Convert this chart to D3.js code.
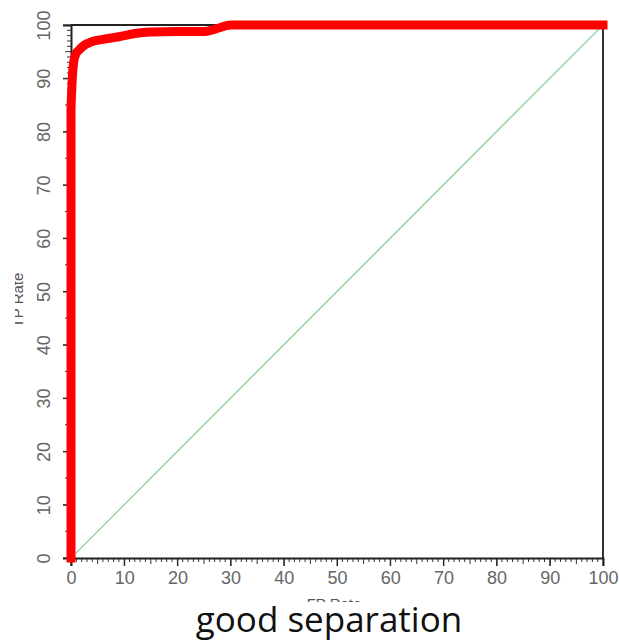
<!DOCTYPE html>
<meta charset="utf-8">
<style>
body { margin: 0; background: #fff; }
.tick text { font: 18px "Liberation Sans", sans-serif; fill: #666; }
.title { font: 35px "Open Sans", sans-serif; fill: #111; }
.axlabel { font: 15px "Liberation Sans", sans-serif; fill: #555; }
</style>
<svg width="619" height="644"></svg>
<script src="https://d3js.org/d3.v7.min.js"></script>
<script>

// ROC curve (FP rate %, TP rate %)
var fpRate = [0, 0, 0.15, 0.3, 0.5, 0.9, 1.5, 2.5, 4, 6, 9, 12, 15, 20, 25, 27, 30, 100]
var tpRate = [0, 84, 88, 91, 93, 94.5, 95.3, 96.2, 96.9, 97.3, 97.8, 98.4, 98.7, 98.8, 98.8, 99.2, 100, 100]
var tickValues = [0, 10, 20, 30, 40, 50, 60, 70, 80, 90, 100]

var svg = d3.select('svg')

var x = d3.scaleLinear().domain([0, 100]).range([71, 603])
var y = d3.scaleLinear().domain([0, 100]).range([558, 25])

// frame
svg.append('line').attr('x1', x(0)).attr('x2', x(100)).attr('y1', y(100)).attr('y2', y(100))
  .attr('stroke', '#222').attr('stroke-width', 2)
svg.append('line').attr('x1', x(100)).attr('x2', x(100)).attr('y1', y(100)).attr('y2', y(0))
  .attr('stroke', '#333').attr('stroke-width', 2)

// minor ticks
var minor = d3.range(0, 101)
var xm = svg.append('g').attr('transform', 'translate(0,' + y(0) + ')')
xm.selectAll('line').data(minor).enter().append('line')
  .attr('x1', function(d){ return x(d) }).attr('x2', function(d){ return x(d) })
  .attr('y1', 0).attr('y2', function(d){ return d % 10 == 0 ? 8 : (d % 5 == 0 ? 6 : 4) })
  .attr('stroke', '#333').attr('stroke-width', 1)
var ym = svg.append('g').attr('transform', 'translate(' + x(0) + ',0)')
ym.selectAll('line').data(minor).enter().append('line')
  .attr('y1', function(d){ return y(d) }).attr('y2', function(d){ return y(d) })
  .attr('x1', 0).attr('x2', function(d){ return d % 10 == 0 ? -8 : (d % 5 == 0 ? -6 : -4) })
  .attr('stroke', '#333').attr('stroke-width', 1)

// axes
var xAxis = svg.append('g').attr('transform', 'translate(0,' + y(0) + ')')
  .call(d3.axisBottom(x).tickValues(tickValues).tickSize(8).tickPadding(5))
xAxis.select('.domain').attr('stroke', '#222').attr('stroke-width', 2)
xAxis.selectAll('.tick line').attr('stroke', '#222')

var yAxis = svg.append('g').attr('transform', 'translate(' + x(0) + ',0)')
  .call(d3.axisLeft(y).tickValues(tickValues).tickSize(8))
yAxis.select('.domain').attr('stroke', '#222').attr('stroke-width', 2)
yAxis.selectAll('.tick line').attr('stroke', '#222')
yAxis.selectAll('.tick text')
  .attr('x', 0).attr('dy', null)
  .attr('text-anchor', 'middle')
  .attr('transform', 'translate(-26,0) rotate(-90)')
  .attr('dominant-baseline', 'middle')

// axis titles, partly cut off as in the original
svg.append('clipPath').attr('id', 'yclip').append('rect')
  .attr('x', 15).attr('y', 0).attr('width', 9).attr('height', 644)
svg.append('g').attr('clip-path', 'url(#yclip)')
  .append('text').attr('class', 'axlabel')
  .attr('transform', 'translate(23,300) rotate(-90)')
  .attr('text-anchor', 'middle')
  .text('TP Rate')

svg.append('clipPath').attr('id', 'xclip').append('rect')
  .attr('x', 0).attr('y', 596).attr('width', 619).attr('height', 6)
svg.append('g').attr('clip-path', 'url(#xclip)')
  .append('text').attr('class', 'axlabel')
  .attr('x', 334).attr('y', 609)
  .attr('text-anchor', 'middle')
  .text('FP Rate')

// chance diagonal
svg.append('line')
  .attr('x1', x(0)).attr('y1', y(0)).attr('x2', x(100)).attr('y2', y(100))
  .attr('stroke', '#9ed4a4').attr('stroke-width', 1.5)

// ROC curve
var pts = fpRate.map(function(d, i){ return [d, tpRate[i]] })
svg.append('path')
  .datum(pts)
  .attr('fill', 'none')
  .attr('stroke', '#ff0000')
  .attr('stroke-width', 9)
  .attr('stroke-linejoin', 'round')
  .attr('stroke-linecap', 'square')
  .attr('d', d3.line().x(function(d){ return x(d[0]) }).y(function(d){ return y(d[1]) }).curve(d3.curveMonotoneX))

svg.append('text').attr('class', 'title')
  .attr('x', 329).attr('y', 632)
  .attr('text-anchor', 'middle')
  .text('good separation')

</script>
